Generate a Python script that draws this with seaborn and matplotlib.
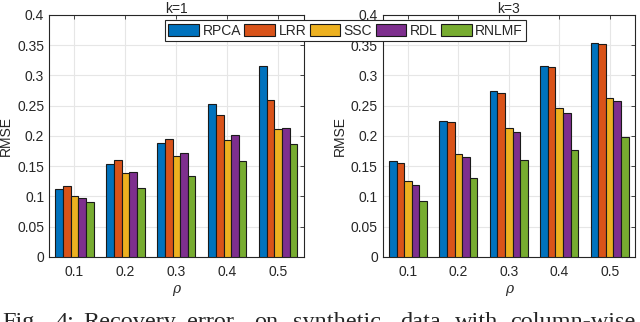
import matplotlib
matplotlib.use("Agg")
import matplotlib.pyplot as plt
import seaborn as sns
import pandas as pd
from matplotlib.patches import Patch

rho = ["0.1", "0.2", "0.3", "0.4", "0.5"]
methods = ["RPCA", "LRR", "SSC", "RDL", "RNLMF"]
colors = ["#0072BD", "#D95319", "#EDB120", "#7E2F8E", "#77AC30"]

# RMSE per method, k=1
k1_rpca = [0.113, 0.153, 0.188, 0.252, 0.315]
k1_lrr = [0.118, 0.160, 0.195, 0.234, 0.260]
k1_ssc = [0.100, 0.138, 0.166, 0.194, 0.212]
k1_rdl = [0.097, 0.140, 0.172, 0.202, 0.213]
k1_rnlmf = [0.090, 0.114, 0.133, 0.159, 0.186]

# RMSE per method, k=3
k3_rpca = [0.158, 0.224, 0.274, 0.316, 0.353]
k3_lrr = [0.156, 0.223, 0.271, 0.314, 0.351]
k3_ssc = [0.125, 0.170, 0.213, 0.246, 0.262]
k3_rdl = [0.119, 0.165, 0.207, 0.237, 0.258]
k3_rnlmf = [0.092, 0.131, 0.160, 0.176, 0.198]

caption_words = ["Fig.", "4:", "Recovery", "error", "on", "synthetic", "data", "with", "column-wise"]


def long_df(series):
    rows = []
    for m, vals in zip(methods, series):
        for r, v in zip(rho, vals):
            rows.append({"rho": r, "method": m, "rmse": v})
    return pd.DataFrame(rows)


panels = [
    ("k=1", long_df([k1_rpca, k1_lrr, k1_ssc, k1_rdl, k1_rnlmf])),
    ("k=3", long_df([k3_rpca, k3_lrr, k3_ssc, k3_rdl, k3_rnlmf])),
]

sns.set_style("white")
plt.rcParams["font.family"] = ["Liberation Sans", "DejaVu Sans"]
plt.rcParams["font.size"] = 10

fig = plt.figure(figsize=(6.4, 3.22), dpi=100)
axes = [fig.add_axes([0.0766, 0.202, 0.398, 0.752]),
        fig.add_axes([0.598, 0.202, 0.394, 0.752])]

for ax, (title, df) in zip(axes, panels):
    sns.barplot(data=df, x="rho", y="rmse", hue="method", hue_order=methods,
                palette=colors, width=0.75, edgecolor="#1a1a1a", linewidth=0.8,
                saturation=1, ax=ax, legend=False, zorder=3)
    ax.set_ylim(0, 0.4)
    ax.set_xlim(-0.5, 4.5)
    ax.set_yticks([0, 0.05, 0.1, 0.15, 0.2, 0.25, 0.3, 0.35, 0.4])
    ax.set_yticklabels(["0", "0.05", "0.1", "0.15", "0.2", "0.25", "0.3", "0.35", "0.4"])
    ax.grid(True, color="#e6e6e6", linewidth=0.8, zorder=0)
    ax.set_axisbelow(True)
    ax.tick_params(direction="in", length=3, top=True, right=True, colors="#262626",
                   labelsize=10, width=0.6)
    ax.tick_params(axis="x", pad=6)
    for s in ax.spines.values():
        s.set_color("#262626")
        s.set_linewidth(0.8)
    ax.set_title(title, fontsize=10, color="#262626", pad=1.5)
    ax.set_ylabel("RMSE", fontsize=10, color="#262626", labelpad=3)
    ax.set_xlabel("ρ", fontsize=10, style="italic", color="#262626",
                  family="DejaVu Serif", labelpad=2)

handles = [Patch(facecolor=c, edgecolor="#1a1a1a", linewidth=0.8) for c in colors]
leg = fig.legend(handles, methods, loc="upper center", bbox_to_anchor=(0.54, 0.937),
                 ncol=5, frameon=True, fancybox=False, fontsize=10,
                 handlelength=2.2, handleheight=0.9, handletextpad=0.25,
                 columnspacing=0.25, borderpad=0.25, borderaxespad=0)
leg.get_frame().set_edgecolor("#262626")
leg.get_frame().set_linewidth(0.8)
leg.get_frame().set_alpha(1)
leg.set_zorder(10)

# justified caption line, cut by the bottom edge as in the source
word_x = [2, 55, 83, 187, 254, 293, 400, 455, 510]
for w, x in zip(caption_words, word_x):
    fig.text(x / 640, 1 - 312 / 322, w, family="Liberation Serif", fontsize=17.5,
             va="top", ha="left")

fig.savefig("out.png", dpi=100)
plt.close()
